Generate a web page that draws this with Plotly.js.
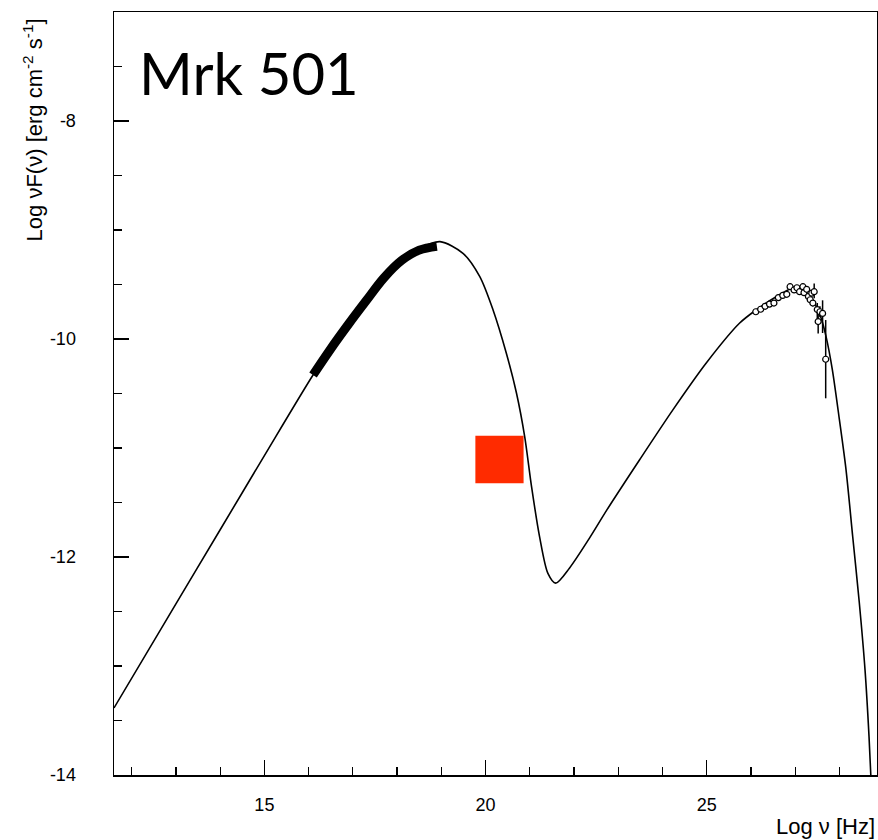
<!DOCTYPE html>
<html>
<head>
<meta charset="utf-8">
<script src="https://cdn.plot.ly/plotly-3.0.1.min.js"></script>
<style>
html,body{margin:0;padding:0;background:#fff;}
#chart{width:878px;height:840px;}
</style>
</head>
<body>
<div id="chart"></div>
<script>
// SSC model curve (log nu, log nuF(nu))
const modelX = [11.6, 13.0, 14.0, 15.0, 16.1, 16.5, 16.9, 17.3, 17.7, 18.1, 18.5, 18.97, 19.49, 19.87, 20.17, 20.47, 20.70, 20.885, 21.04, 21.22, 21.41, 21.585, 21.90, 22.36, 22.74, 23.48, 24.235, 24.99, 25.74, 26.115, 26.57, 26.94, 27.17, 27.39, 27.58, 27.70, 27.84, 28.0, 28.15, 28.30, 28.45, 28.58, 28.67, 28.71];
const modelY = [-13.385, -12.43, -11.75, -11.07, -10.33, -10.09, -9.865, -9.65, -9.44, -9.28, -9.17, -9.107, -9.214, -9.428, -9.734, -10.131, -10.498, -10.896, -11.355, -11.81, -12.15, -12.24, -12.10, -11.82, -11.57, -11.11, -10.65, -10.22, -9.856, -9.734, -9.612, -9.535, -9.55, -9.64, -9.80, -9.98, -10.28, -10.74, -11.20, -11.81, -12.42, -13.04, -13.65, -14.0];

// X-ray spectrum (thick band)
const xrayX = [16.1, 16.5, 16.9, 17.3, 17.7, 18.1, 18.5, 18.9];
const xrayY = [-10.33, -10.09, -9.865, -9.65, -9.44, -9.28, -9.185, -9.15];

// TeV data points with errors
const tevX = [26.11, 26.22, 26.32, 26.42, 26.52, 26.62, 26.72, 26.81, 26.885, 26.975, 27.04, 27.10, 27.175, 27.20, 27.26, 27.30, 27.34, 27.375, 27.40, 27.43, 27.50, 27.52, 27.56, 27.62, 27.69];
const tevY = [-9.75, -9.727, -9.70, -9.68, -9.67, -9.62, -9.60, -9.59, -9.52, -9.55, -9.53, -9.566, -9.52, -9.575, -9.544, -9.61, -9.64, -9.58, -9.67, -9.566, -9.73, -9.84, -9.75, -9.765, -10.186];
const tevErrUp = [0.01, 0.01, 0.01, 0.01, 0.01, 0.01, 0.01, 0.01, 0.01, 0.02, 0.02, 0.02, 0.02, 0.02, 0.02, 0.03, 0.03, 0.03, 0.03, 0.076, 0.06, 0.07, 0.05, 0.12, 0.36];
const tevErrDown = [0.01, 0.01, 0.01, 0.01, 0.01, 0.01, 0.01, 0.01, 0.01, 0.02, 0.02, 0.02, 0.02, 0.02, 0.02, 0.03, 0.03, 0.03, 0.03, 0.061, 0.12, 0.11, 0.05, 0.18, 0.358];

// Red box (x and y extent)
const boxX = [19.77, 20.86];
const boxY = [-11.324, -10.887];

// Tick labels
const xTickVals = [15, 20, 25];
const xTickText = ['15', '20', '25'];
const yTickVals = [-14, -12, -10, -8];
const yTickText = ['-14', '-12', '-10', '-8'];

const traces = [
  {
    x: [boxX[0], boxX[1], boxX[1], boxX[0], boxX[0]],
    y: [boxY[0], boxY[0], boxY[1], boxY[1], boxY[0]],
    mode: 'lines', fill: 'toself', fillcolor: '#ff2b00',
    line: {color: '#ff2b00', width: 0}, hoverinfo: 'skip', showlegend: false
  },
  {
    x: modelX, y: modelY, mode: 'lines',
    line: {color: '#000', width: 1.6, shape: 'spline', smoothing: 0.8},
    showlegend: false
  },
  {
    x: xrayX, y: xrayY, mode: 'lines',
    line: {color: '#000', width: 9, shape: 'spline', smoothing: 1},
    showlegend: false
  },
  {
    x: tevX, y: tevY, mode: 'markers',
    marker: {symbol: 'circle', size: 6, color: '#fff', line: {color: '#000', width: 1.2}},
    error_y: {type: 'data', symmetric: false, array: tevErrUp, arrayminus: tevErrDown, color: '#000', thickness: 1.5, width: 0},
    showlegend: false
  }
];

const axisFont = {family: 'Liberation Sans, Arial, sans-serif', size: 18, color: '#000'};

const layout = {
  width: 878, height: 840,
  margin: {l: 114, r: 1, t: 12, b: 65},
  paper_bgcolor: '#fff', plot_bgcolor: '#fff',
  showlegend: false,
  xaxis: {
    range: [11.6, 28.85],
    tickmode: 'array', tickvals: xTickVals, ticktext: xTickText,
    ticks: 'inside', ticklen: 15, tickwidth: 1.5, tickcolor: '#000',
    minor: {dtick: 1, tick0: 0, ticks: 'inside', ticklen: 8, tickwidth: 1.2, tickcolor: '#000', showgrid: false},
    showline: true, linecolor: '#000', linewidth: 1.5, mirror: true,
    showgrid: false, zeroline: false,
    tickfont: axisFont, ticklabelstandoff: 13
  },
  yaxis: {
    range: [-14, -7],
    tickmode: 'array', tickvals: yTickVals, ticktext: yTickText,
    ticks: 'inside', ticklen: 15, tickwidth: 1.5, tickcolor: '#000',
    minor: {dtick: 0.5, tick0: 0, ticks: 'inside', ticklen: 8, tickwidth: 1.2, tickcolor: '#000', showgrid: false},
    showline: true, linecolor: '#000', linewidth: 1.5, mirror: true,
    showgrid: false, zeroline: false,
    tickfont: axisFont, ticklabelstandoff: 33
  },
  annotations: [
    {
      text: 'Mrk 501', xref: 'paper', yref: 'paper', x: 0.03, y: 0.921,
      xanchor: 'left', yanchor: 'middle', showarrow: false,
      font: {family: 'Lato, Noto Sans, sans-serif', size: 58, color: '#000'}
    },
    {
      text: 'Log νF(ν) [erg cm<sup>-2</sup> s<sup>-1</sup>]', xref: 'paper', yref: 'paper',
      x: -0.106, y: 0.845, textangle: -90, xanchor: 'center', yanchor: 'middle', showarrow: false,
      font: {family: 'Liberation Sans, Arial, sans-serif', size: 22, color: '#000'}
    },
    {
      text: 'Log ν [Hz]', xref: 'paper', yref: 'paper', x: 1.0, y: -0.067,
      xanchor: 'right', yanchor: 'middle', showarrow: false,
      font: {family: 'Liberation Sans, Arial, sans-serif', size: 22, color: '#000'}
    }
  ]
};

Plotly.newPlot('chart', traces, layout, {displayModeBar: false, staticPlot: true});
</script>
</body>
</html>
